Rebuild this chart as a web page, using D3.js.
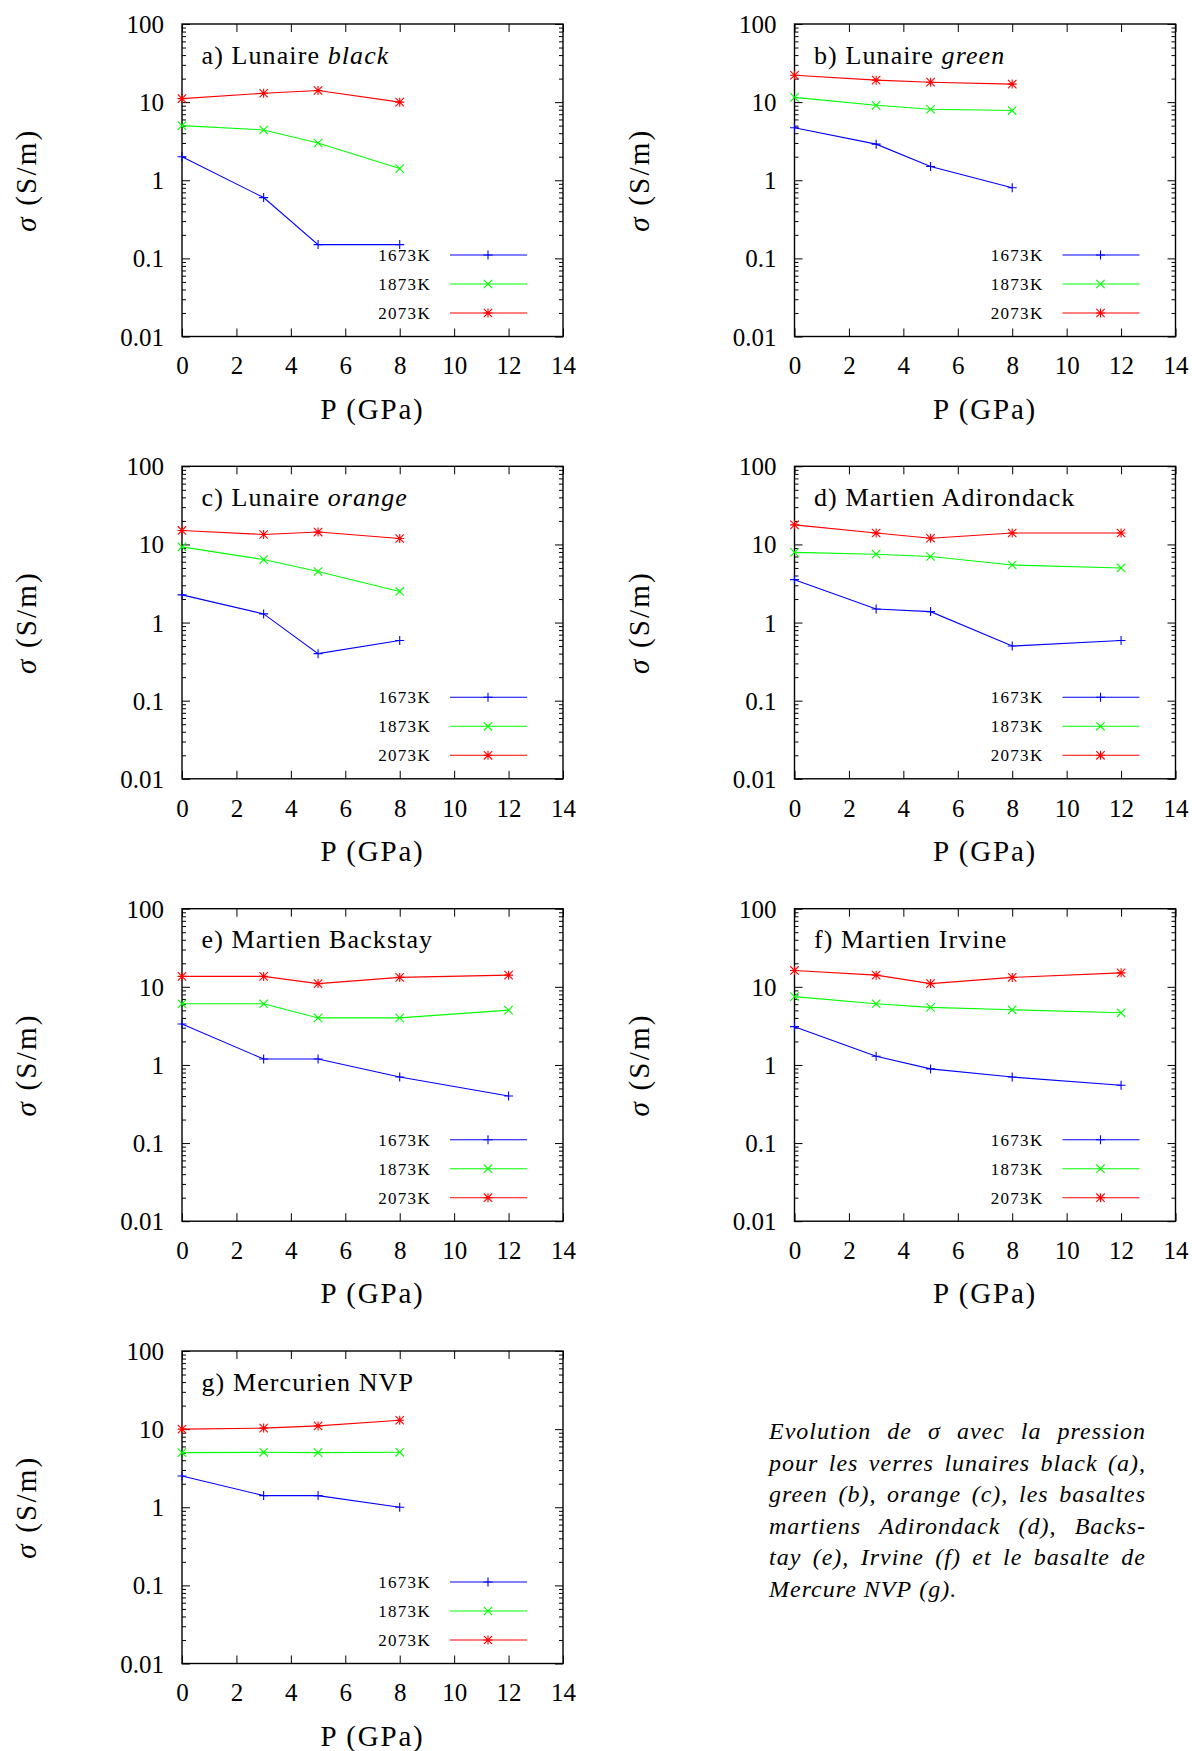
<!DOCTYPE html>
<html><head><meta charset="utf-8">
<script src="https://cdn.jsdelivr.net/npm/d3@7"></script>
<style>
body{margin:0;background:#fff}
svg{display:block}
text{font-family:"Liberation Serif","Times New Roman",serif;fill:#000}
</style>
</head><body>
<svg id="chart" width="1192" height="1751"></svg>
<script>
// ---------- data ----------
const pressureShort = [0, 3, 5, 8];
const pressureLong = [0, 3, 5, 8, 12];
const temperatures = ["1673K", "1873K", "2073K"];
const xTicks = [0, 2, 4, 6, 8, 10, 12, 14];
const yTicks = [0.01, 0.1, 1, 10, 100];
const yTickLabels = ["0.01", "0.1", "1", "10", "100"];
const panelTitles = ["a) Lunaire ", "b) Lunaire ", "c) Lunaire ", "d) Martien Adirondack", "e) Martien Backstay", "f) Martien Irvine", "g) Mercurien NVP"];
const panelTitlesItalic = ["black", "green", "orange", "", "", "", ""];

const a1673 = [2.0, 0.60, 0.15, 0.15];
const a1873 = [5.0, 4.4, 3.0, 1.41];
const a2073 = [11.1, 13.0, 14.1, 10.0];
const b1673 = [4.7, 2.9, 1.5, 0.80];
const b1873 = [11.5, 9.1, 8.1, 7.8];
const b2073 = [22.1, 19.1, 18.0, 17.0];
const c1673 = [2.26, 1.29, 0.40, 0.59];
const c1873 = [9.3, 6.4, 4.5, 2.5];
const c2073 = [15.1, 13.4, 14.4, 11.9];
const d1673 = [3.54, 1.49, 1.38, 0.50, 0.59];
const d1873 = [7.9, 7.5, 7.0, 5.45, 5.0];
const d2073 = [17.8, 14.0, 12.0, 14.0, 14.0];
const e1673 = [3.34, 1.19, 1.19, 0.70, 0.40];
const e1873 = [6.07, 6.07, 4.0, 4.0, 5.03];
const e2073 = [13.6, 13.6, 11.0, 13.2, 14.1];
const f1673 = [3.09, 1.29, 0.89, 0.70, 0.55];
const f1873 = [7.5, 6.07, 5.45, 5.08, 4.65];
const f2073 = [16.2, 14.1, 11.0, 13.2, 15.1];
const g1673 = [2.51, 1.41, 1.41, 1.0];
const g1873 = [5.0, 5.05, 5.0, 5.05];
const g2073 = [10.0, 10.3, 11.0, 13.0];

const captionLines = [
  "Evolution de σ avec la pression",
  "pour les verres lunaires black (a),",
  "green (b), orange (c), les basaltes",
  "martiens Adirondack (d), Backs-",
  "tay (e), Irvine (f) et le basalte de",
  "Mercure NVP (g)."
];

// ---------- build ----------
const panelSeries = [
  [pressureShort, [a1673, a1873, a2073]],
  [pressureShort, [b1673, b1873, b2073]],
  [pressureShort, [c1673, c1873, c2073]],
  [pressureLong, [d1673, d1873, d2073]],
  [pressureLong, [e1673, e1873, e2073]],
  [pressureLong, [f1673, f1873, f2073]],
  [pressureShort, [g1673, g1873, g2073]]
];
const colors = ["#0000ff", "#00ff00", "#ff0000"];
const symPlus = "M-4.5,0H4.5M0,-4.5V4.5";
const symTimes = "M-4.2,-4.2L4.2,4.2M-4.2,4.2L4.2,-4.2";
const symbols = [symPlus, symTimes, symPlus + symTimes];

const colX = [182, 794.5];
const rowY = [24, 466.3, 908.7, 1351];
const W = 381, H = 312.5;

const svg = d3.select("#chart");
const x = d3.scaleLinear().domain([0, 14]).range([0, W]);
const y = d3.scaleLog().domain([0.01, 100]).range([H, 0]);
const minor = [];
[0.01, 0.1, 1, 10].forEach(b => { for (let k = 2; k <= 9; k++) minor.push(b * k); });

function styleAxis(g) {
  g.attr("font-family", null).attr("font-size", null);
  g.select(".domain").remove();
  g.selectAll(".tick line").attr("stroke", "#000").attr("stroke-width", 1);
}

panelSeries.forEach(([px, series], i) => {
  const col = i % 2, row = Math.floor(i / 2);
  const g = svg.append("g").attr("transform", `translate(${colX[col]},${rowY[row]})`);

  // axes
  g.append("g").attr("transform", `translate(0,${H})`)
    .call(d3.axisBottom(x).tickValues(xTicks).tickSizeInner(-8).tickSizeOuter(0).tickPadding(20).tickFormat(d3.format("d")))
    .call(styleAxis)
    .selectAll("text").attr("font-size", 25);
  g.append("g")
    .call(d3.axisTop(x).tickValues(xTicks).tickSizeInner(-8).tickSizeOuter(0).tickFormat(""))
    .call(styleAxis);
  g.append("g")
    .call(d3.axisLeft(y).tickValues(yTicks).tickSizeInner(-8).tickSizeOuter(0).tickPadding(18).tickFormat((d, k) => yTickLabels[k]))
    .call(styleAxis)
    .selectAll("text").attr("font-size", 25).attr("dy", "0.34em");
  g.append("g")
    .call(d3.axisLeft(y).tickValues(minor).tickSizeInner(-4).tickSizeOuter(0).tickFormat(""))
    .call(styleAxis);
  g.append("g").attr("transform", `translate(${W},0)`)
    .call(d3.axisRight(y).tickValues(yTicks).tickSizeInner(-8).tickSizeOuter(0).tickFormat(""))
    .call(styleAxis);
  g.append("g").attr("transform", `translate(${W},0)`)
    .call(d3.axisRight(y).tickValues(minor).tickSizeInner(-4).tickSizeOuter(0).tickFormat(""))
    .call(styleAxis);

  g.append("rect").attr("width", W).attr("height", H)
    .attr("fill", "none").attr("stroke", "#000").attr("stroke-width", 1.4);

  // axis labels
  g.append("text").attr("x", W / 2).attr("y", H + 82)
    .attr("text-anchor", "middle").attr("font-size", 29).attr("letter-spacing", 1.8)
    .text("P (GPa)");
  const yl = g.append("text")
    .attr("transform", `translate(-146,${H / 2}) rotate(-90)`)
    .attr("text-anchor", "middle").attr("font-size", 29).attr("letter-spacing", 2.2);
  yl.append("tspan").attr("font-style", "italic").text("σ");
  yl.append("tspan").text(" (S/m)");

  // title
  const t = g.append("text").attr("x", 19.5).attr("y", 39.5)
    .attr("font-size", 26).attr("letter-spacing", 1.1);
  t.append("tspan").text(panelTitles[i]);
  if (panelTitlesItalic[i]) t.append("tspan").attr("font-style", "italic").text(panelTitlesItalic[i]);

  // data
  const line = d3.line().x(d => x(d[0])).y(d => y(d[1]));
  series.forEach((vals, s) => {
    const pts = px.map((p, k) => [p, vals[k]]);
    g.append("path").attr("d", line(pts)).attr("fill", "none")
      .attr("stroke", colors[s]).attr("stroke-width", 1.1);
    g.selectAll(null).data(pts).enter().append("path")
      .attr("d", symbols[s])
      .attr("transform", d => `translate(${x(d[0])},${y(d[1])})`)
      .attr("fill", "none").attr("stroke", colors[s]).attr("stroke-width", 1.1);
  });

  // legend
  temperatures.forEach((lab, s) => {
    const ly = 231 + 29 * s;
    g.append("text").attr("x", 249).attr("y", ly).attr("dy", "0.35em")
      .attr("text-anchor", "end").attr("font-size", 17).attr("letter-spacing", 1.3)
      .text(lab);
    g.append("line").attr("x1", 268).attr("x2", 345).attr("y1", ly).attr("y2", ly)
      .attr("stroke", colors[s]).attr("stroke-width", 1.1);
    g.append("path").attr("d", symbols[s]).attr("transform", `translate(306,${ly})`)
      .attr("fill", "none").attr("stroke", colors[s]).attr("stroke-width", 1.1);
  });
});

// caption (justified italic)
const capLeft = 769, capRight = 1146, capTop = 1439, capStep = 31.6;
const cap = svg.append("g");
captionLines.forEach((ln, li) => {
  const words = ln.split(" ");
  const yy = capTop + capStep * li;
  const nodes = words.map(w => cap.append("text").attr("y", yy)
    .attr("font-size", 24).attr("letter-spacing", 1.0).attr("font-style", "italic").text(w));
  const widths = nodes.map(n => n.node().getComputedTextLength());
  const total = widths.reduce((a, b) => a + b, 0);
  const last = li === captionLines.length - 1;
  const gap = last ? 7 : (capRight - capLeft - total) / (words.length - 1);
  let cx = capLeft;
  nodes.forEach((n, k) => { n.attr("x", cx); cx += widths[k] + gap; });
});
</script>
</body></html>
